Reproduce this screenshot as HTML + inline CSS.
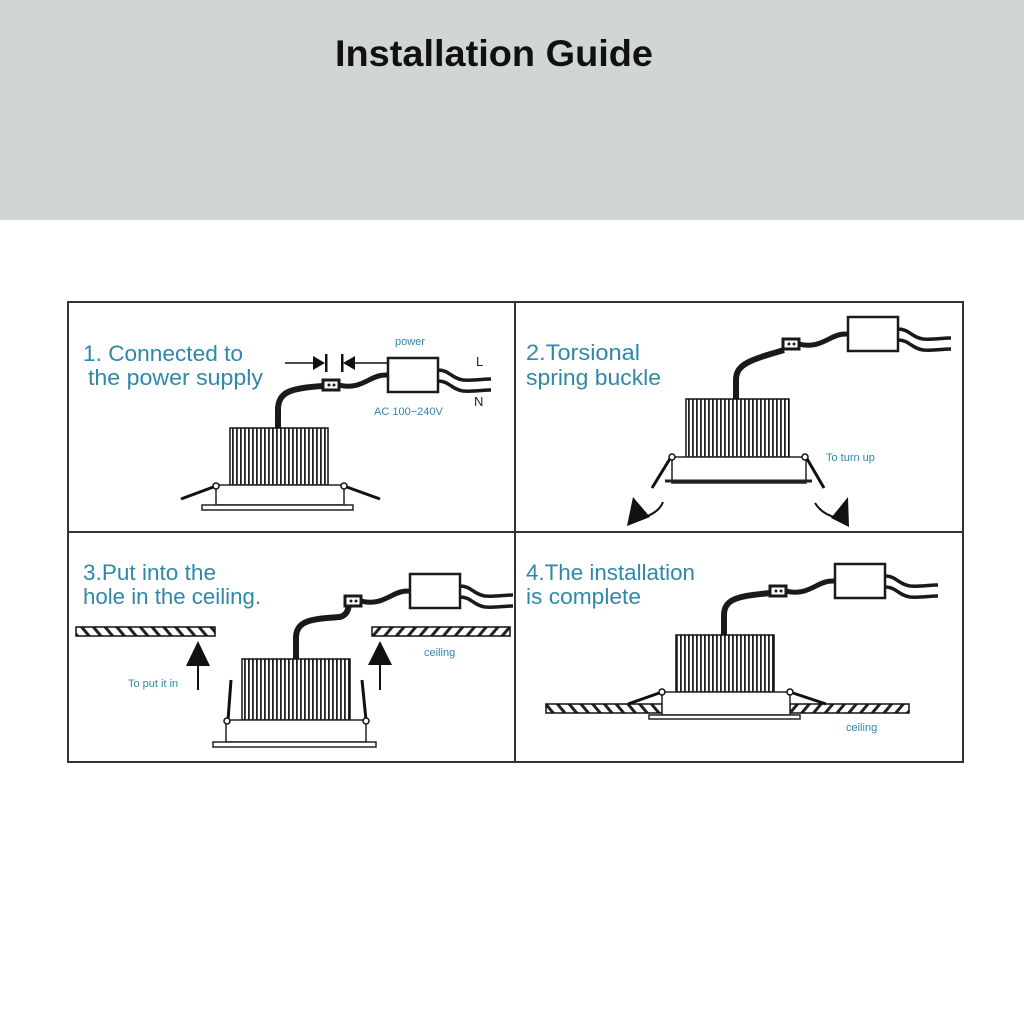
<!DOCTYPE html>
<html><head><meta charset="utf-8"><style>
html,body{margin:0;padding:0;background:#fff;}
svg{display:block;}
.t{font-family:"Liberation Sans",Arial,sans-serif;fill:#2f88a8;}
</style></head><body>
<svg width="1024" height="1024" viewBox="0 0 1024 1024" xmlns="http://www.w3.org/2000/svg">
<defs>
<pattern id="fins" width="4" height="10" patternUnits="userSpaceOnUse">
<rect width="4" height="10" fill="#fff"/><rect x="0" width="1.8" height="10" fill="#222"/>
</pattern>
<pattern id="hatchL" width="9" height="9" patternUnits="userSpaceOnUse" patternTransform="rotate(40)">
<rect width="9" height="9" fill="#fff"/><rect width="3" height="9" fill="#222"/>
</pattern>
<pattern id="hatchR" width="9" height="9" patternUnits="userSpaceOnUse" patternTransform="rotate(-40)">
<rect width="9" height="9" fill="#fff"/><rect width="3" height="9" fill="#222"/>
</pattern>
<g id="psu">
<rect x="-8" y="-5" width="16" height="10" fill="#fff" stroke="#1a1a1a" stroke-width="3"/>
<circle cx="-2" cy="0" r="1.5" fill="#1a1a1a"/><circle cx="3" cy="0" r="1.5" fill="#1a1a1a"/>
<path d="M8 0 C22 4 32 -2 40 -6 C48 -10 52 -10 57 -10" fill="none" stroke="#1a1a1a" stroke-width="5"/>
<rect x="57" y="-27" width="50" height="34" fill="#fff" stroke="#1a1a1a" stroke-width="2.5"/>
<path d="M107 -15 C118 -15 120 -7 132 -5 C142 -4 150 -6 160 -6" fill="none" stroke="#1a1a1a" stroke-width="3.5"/>
<path d="M107 -4 C118 -4 120 4 132 6 C142 7 150 5 160 5" fill="none" stroke="#1a1a1a" stroke-width="3.5"/>
</g>
</defs>
<rect x="0" y="0" width="1024" height="220" fill="#cfd6d3"/>
<text x="335" y="66" font-family="Liberation Sans,Arial,sans-serif" font-size="37" font-weight="bold" fill="#111" textLength="318" lengthAdjust="spacingAndGlyphs">Installation Guide</text>

<rect x="68" y="302" width="895" height="460" fill="#fff" stroke="#333" stroke-width="2"/>
<line x1="515" y1="302" x2="515" y2="762" stroke="#333" stroke-width="2"/>
<line x1="68" y1="532" x2="963" y2="532" stroke="#333" stroke-width="2"/>

<!-- Panel 1 -->
<text class="t" x="83" y="361" font-size="22" textLength="160" lengthAdjust="spacingAndGlyphs">1. Connected to</text>
<text class="t" x="88" y="385" font-size="22" textLength="175" lengthAdjust="spacingAndGlyphs">the power supply</text>
<text class="t" x="395" y="345" font-size="11">power</text>
<text class="t" x="374" y="415" font-size="11">AC 100−240V</text>
<text x="476" y="366" font-family="Liberation Sans,sans-serif" font-size="13" fill="#222">L</text>
<text x="474" y="406" font-family="Liberation Sans,sans-serif" font-size="13" fill="#222">N</text>
<line x1="285" y1="363" x2="314" y2="363" stroke="#111" stroke-width="1.5"/>
<polygon points="313,356 325,363 313,370" fill="#111"/>
<rect x="325" y="354" width="2.5" height="18" fill="#111"/>
<rect x="341" y="354" width="2.5" height="18" fill="#111"/>
<polygon points="355,356 343,363 355,370" fill="#111"/>
<line x1="354" y1="363" x2="388" y2="363" stroke="#111" stroke-width="1.5"/>
<path d="M278 430 L278 410 C278 392 290 388 323 386" fill="none" stroke="#1a1a1a" stroke-width="6"/>
<use href="#psu" x="331" y="385"/>
<rect x="230" y="428" width="98" height="57" fill="url(#fins)" stroke="#111" stroke-width="1.5"/>
<rect x="216" y="485" width="128" height="20" fill="#fff" stroke="#222" stroke-width="1.5"/>
<rect x="202" y="505" width="151" height="5" fill="#fff" stroke="#222" stroke-width="1.5"/>
<line x1="216" y1="486" x2="181" y2="499" stroke="#111" stroke-width="3"/>
<line x1="344" y1="486" x2="380" y2="499" stroke="#111" stroke-width="3"/>
<circle cx="216" cy="486" r="3" fill="#fff" stroke="#111" stroke-width="1.5"/>
<circle cx="344" cy="486" r="3" fill="#fff" stroke="#111" stroke-width="1.5"/>

<!-- Panel 2 -->
<text class="t" x="526" y="360" font-size="22" textLength="114" lengthAdjust="spacingAndGlyphs">2.Torsional</text>
<text class="t" x="526" y="385" font-size="22" textLength="135" lengthAdjust="spacingAndGlyphs">spring buckle</text>
<text class="t" x="826" y="461" font-size="11">To turn up</text>
<path d="M736 400 L736 380 C736 364 750 360 784 350" fill="none" stroke="#1a1a1a" stroke-width="6"/>
<use href="#psu" x="791" y="344"/>
<rect x="686" y="399" width="103" height="58" fill="url(#fins)" stroke="#111" stroke-width="1.5"/>
<rect x="672" y="457" width="134" height="26" fill="#fff" stroke="#222" stroke-width="1.5"/>
<line x1="665" y1="481" x2="812" y2="481" stroke="#222" stroke-width="3"/>
<line x1="671" y1="457" x2="652" y2="488" stroke="#111" stroke-width="3"/>
<line x1="806" y1="457" x2="824" y2="488" stroke="#111" stroke-width="3"/>
<circle cx="672" cy="457" r="3" fill="#fff" stroke="#111" stroke-width="1.5"/>
<circle cx="805" cy="457" r="3" fill="#fff" stroke="#111" stroke-width="1.5"/>
<path d="M663 502 C660 510 652 515 642 518" fill="none" stroke="#111" stroke-width="2"/>
<polygon points="627,526 633,497 650,517" fill="#111"/>
<path d="M815 503 C820 511 828 516 838 518" fill="none" stroke="#111" stroke-width="2"/>
<polygon points="849,527 848,497 831,518" fill="#111"/>

<!-- Panel 3 -->
<text class="t" x="83" y="580" font-size="22" textLength="133" lengthAdjust="spacingAndGlyphs">3.Put into the</text>
<text class="t" x="83" y="604" font-size="22" textLength="178" lengthAdjust="spacingAndGlyphs">hole in the ceiling.</text>
<text class="t" x="424" y="656" font-size="11">ceiling</text>
<text class="t" x="128" y="687" font-size="11">To put it in</text>
<rect x="76" y="627" width="139" height="9" fill="url(#hatchR)" stroke="#111" stroke-width="1.5"/>
<rect x="372" y="627" width="138" height="9" fill="url(#hatchL)" stroke="#111" stroke-width="1.5"/>
<line x1="198" y1="660" x2="198" y2="690" stroke="#111" stroke-width="2"/>
<polygon points="198,641 186,666 210,666" fill="#111"/>
<line x1="380" y1="660" x2="380" y2="690" stroke="#111" stroke-width="2"/>
<polygon points="380,641 368,665 392,665" fill="#111"/>
<path d="M296 661 L296 638 C296 620 312 619 340 617 C347 615 348 610 349 605" fill="none" stroke="#1a1a1a" stroke-width="6"/>
<use href="#psu" x="353" y="601"/>
<rect x="242" y="659" width="108" height="61" fill="url(#fins)" stroke="#111" stroke-width="1.5"/>
<rect x="226" y="720" width="140" height="22" fill="#fff" stroke="#222" stroke-width="1.5"/>
<rect x="213" y="742" width="163" height="5" fill="#fff" stroke="#222" stroke-width="1.5"/>
<line x1="228" y1="720" x2="231" y2="680" stroke="#111" stroke-width="3"/>
<line x1="366" y1="720" x2="362" y2="680" stroke="#111" stroke-width="3"/>
<circle cx="227" cy="721" r="3" fill="#fff" stroke="#111" stroke-width="1.5"/>
<circle cx="366" cy="721" r="3" fill="#fff" stroke="#111" stroke-width="1.5"/>

<!-- Panel 4 -->
<text class="t" x="526" y="580" font-size="22" textLength="169" lengthAdjust="spacingAndGlyphs">4.The installation</text>
<text class="t" x="526" y="604" font-size="22" textLength="115" lengthAdjust="spacingAndGlyphs">is complete</text>
<text class="t" x="846" y="731" font-size="11">ceiling</text>
<path d="M724 637 L724 615 C724 598 740 596 770 593" fill="none" stroke="#1a1a1a" stroke-width="6"/>
<use href="#psu" x="778" y="591"/>
<rect x="676" y="635" width="98" height="57" fill="url(#fins)" stroke="#111" stroke-width="1.5"/>
<rect x="546" y="704" width="116" height="9" fill="url(#hatchR)" stroke="#111" stroke-width="1.5"/>
<rect x="790" y="704" width="119" height="9" fill="url(#hatchL)" stroke="#111" stroke-width="1.5"/>
<rect x="662" y="692" width="128" height="23" fill="#fff" stroke="#222" stroke-width="1.5"/>
<rect x="649" y="715" width="151" height="4" fill="#fff" stroke="#222" stroke-width="1.5"/>
<line x1="662" y1="692" x2="628" y2="704" stroke="#111" stroke-width="3"/>
<line x1="790" y1="692" x2="826" y2="704" stroke="#111" stroke-width="3"/>
<circle cx="662" cy="692" r="3" fill="#fff" stroke="#111" stroke-width="1.5"/>
<circle cx="790" cy="692" r="3" fill="#fff" stroke="#111" stroke-width="1.5"/>
</svg>
</body></html>
